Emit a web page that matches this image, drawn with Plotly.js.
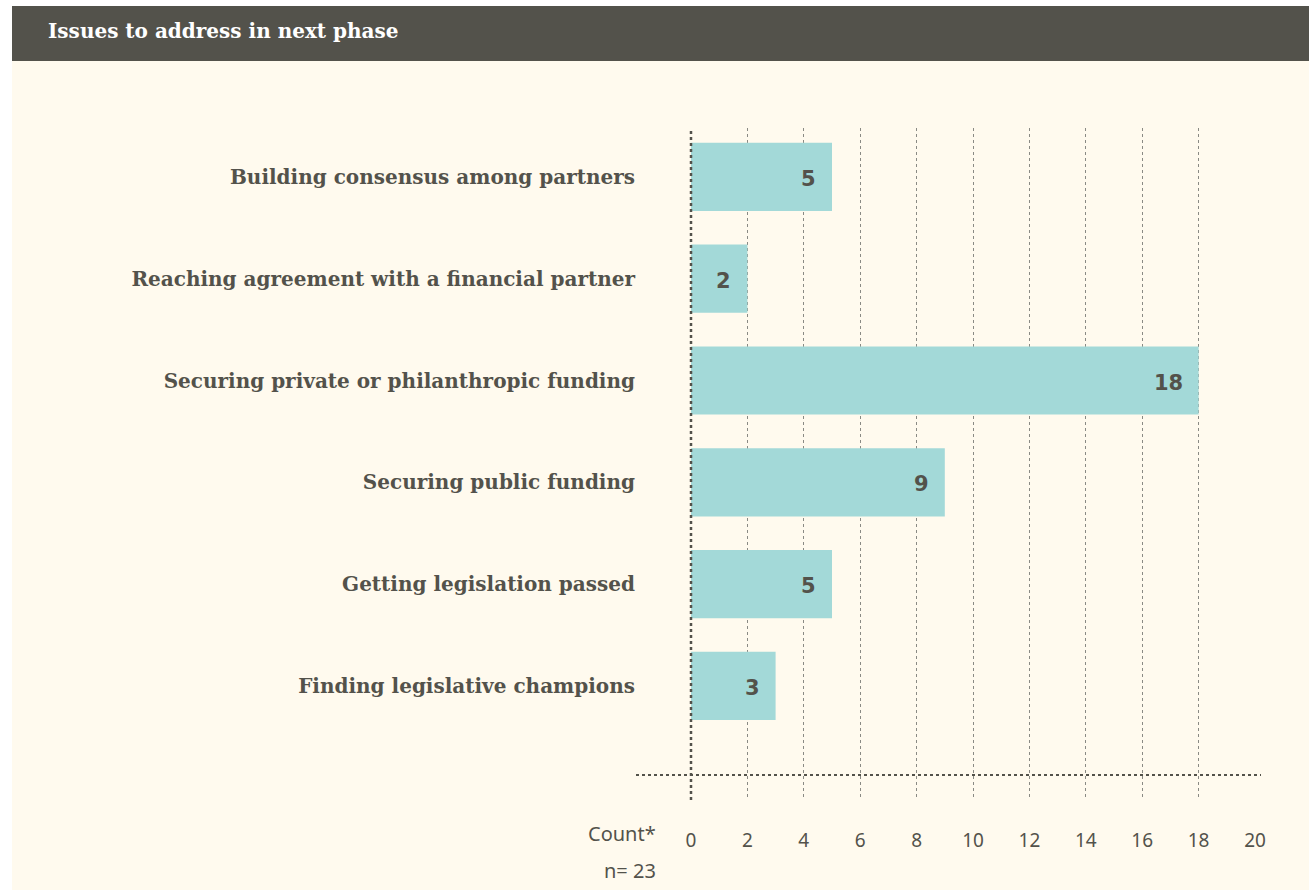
<!DOCTYPE html>
<html>
<head>
<meta charset="utf-8">
<script src="https://cdn.plot.ly/plotly-3.0.1.min.js"></script>
<style>
html,body{margin:0;padding:0;background:#ffffff;}
#chart{width:1309px;height:890px;}
</style>
</head>
<body>
<div id="chart"></div>
<script>
var categories = [
  "Building consensus among partners",
  "Reaching agreement with a financial partner",
  "Securing private or philanthropic funding",
  "Securing public funding",
  "Getting legislation passed",
  "Finding legislative champions"
];
var counts = [5, 2, 18, 9, 5, 3];
var tickVals = [0, 2, 4, 6, 8, 10, 12, 14, 16, 18, 20];
var chartTitle = "Issues to address in next phase";
var axisLabel = "Count*";
var sampleNote = "n= 23";

var textColor = "#53524b";
var W = 1309, H = 890;
var mL = 691, mR = 54, mT = 128, mB = 90;
var pw = W - mL - mR, ph = H - mT - mB;

var trace = {
  type: "bar",
  orientation: "h",
  x: counts,
  y: categories,
  width: 0.67,
  marker: {color: "#a3d9d8", line: {width: 0}},
  hoverinfo: "x+y"
};

var annotations = counts.map(function(v, i){
  return {
    x: v, y: categories[i], xref: "x", yref: "y",
    text: String(v), showarrow: false,
    xanchor: "right", yanchor: "middle", xshift: -14, yshift: -2,
    font: {family: "DejaVu Sans, sans-serif", size: 21, color: textColor, weight: "bold"}
  };
});
annotations.push({
  xref: "paper", yref: "paper",
  x: (658 - mL) / pw, y: (H - mB - 833) / ph,
  text: axisLabel, showarrow: false, xanchor: "right", yanchor: "middle",
  font: {family: "Noto Sans, sans-serif", size: 20, color: textColor}
});
annotations.push({
  xref: "paper", yref: "paper",
  x: (658 - mL) / pw, y: (H - mB - 870) / ph,
  text: sampleNote, showarrow: false, xanchor: "right", yanchor: "middle",
  font: {family: "Noto Sans, sans-serif", size: 20, color: textColor}
});
annotations.push({
  xref: "paper", yref: "paper",
  x: (46 - mL) / pw, y: (H - mB - 31) / ph,
  text: "<b>" + chartTitle + "</b>", showarrow: false, xanchor: "left", yanchor: "middle",
  font: {family: "DejaVu Serif, serif", size: 20, color: "#ffffff"}
});

var shapes = [
  // cream background
  {type: "rect", xref: "paper", yref: "paper", layer: "below",
   x0: (12 - mL) / pw, x1: (W - mL) / pw, y0: (H - mB - 890) / ph, y1: (H - mB - 61) / ph,
   fillcolor: "#fffaee", line: {width: 0}},
  // title bar
  {type: "rect", xref: "paper", yref: "paper", layer: "below",
   x0: (12 - mL) / pw, x1: (W - mL) / pw, y0: (H - mB - 61) / ph, y1: (H - mB - 6) / ph,
   fillcolor: "#53524b", line: {width: 0}},
  // zero line (dotted, heavier)
  {type: "line", xref: "paper", yref: "paper", layer: "above",
   x0: 0, x1: 0, y0: 0, y1: 1,
   line: {color: textColor, width: 2.5, dash: "dot"}},
  // horizontal baseline
  {type: "line", xref: "paper", yref: "paper", layer: "above",
   x0: (636 - mL) / pw, x1: (1261 - mL) / pw, y0: (H - mB - 775) / ph, y1: (H - mB - 775) / ph,
   line: {color: textColor, width: 2, dash: "dot"}}
];

var layout = {
  width: W, height: H,
  margin: {l: mL, r: mR, t: mT, b: mB, pad: 0},
  paper_bgcolor: "#ffffff",
  plot_bgcolor: "rgba(0,0,0,0)",
  showlegend: false,
  bargap: 0.33,
  xaxis: {
    range: [0, 20],
    tickvals: tickVals,
    ticktext: tickVals.map(String),
    showgrid: true, gridcolor: "#8a8a84", gridwidth: 1, griddash: "dot",
    zeroline: false, showline: false, ticks: "",
    ticklabelstandoff: 27,
    tickfont: {family: "Noto Sans, sans-serif", size: 19, color: textColor},
    fixedrange: true
  },
  yaxis: {
    type: "category",
    categoryorder: "array", categoryarray: categories,
    range: [6.12, -0.48],
    showgrid: false, zeroline: false, showline: false, ticks: "",
    ticklabelstandoff: 55,
    tickfont: {family: "DejaVu Serif, serif", size: 20, color: textColor, weight: "bold"},
    fixedrange: true
  },
  shapes: shapes,
  annotations: annotations
};

Plotly.newPlot("chart", [trace], layout, {displayModeBar: false, staticPlot: true});
</script>
</body>
</html>
